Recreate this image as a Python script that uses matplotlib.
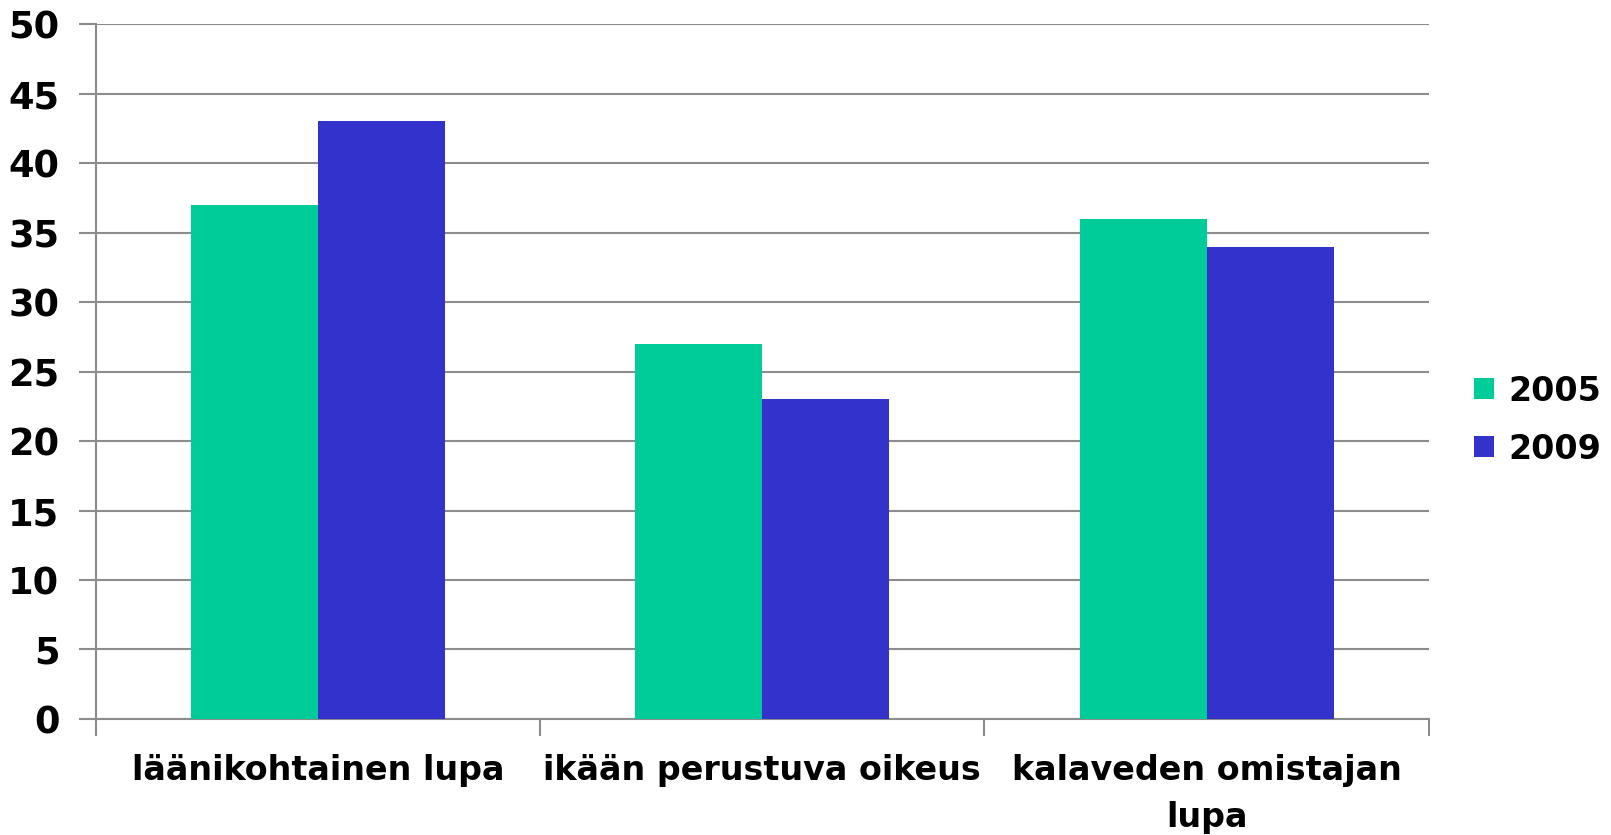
import matplotlib.pyplot as plt
import numpy as np

categories = ['läänikohtainen lupa', 'ikään perustuva oikeus', 'kalaveden omistajan\nlupa']
years = ['2005', '2009']
values_2005 = [37, 27, 36]
values_2009 = [43, 23, 34]
colors = ['#00CC99', '#3333CC']

plt.rcParams['font.family'] = 'DejaVu Sans'
plt.rcParams['font.weight'] = 'bold'

fig = plt.figure(figsize=(16.11, 8.35), dpi=100)
ax = fig.add_axes([0.0593, 0.139, 0.8277, 0.832])

x = np.arange(len(categories))
w = 0.286
ax.bar(x - w / 2, values_2005, w, color=colors[0], label=years[0], zorder=3)
ax.bar(x + w / 2, values_2009, w, color=colors[1], label=years[1], zorder=3)

ax.set_xlim(-0.5, len(categories) - 0.5)
ax.set_ylim(0, 50)
ax.set_yticks(range(0, 51, 5))
ax.yaxis.grid(True, color='#8c8c8c', linewidth=1.5, zorder=0)

ax.set_xticks(np.arange(-0.5, len(categories), 1.0))
ax.set_xticklabels([])
ax.set_xticks(x, minor=True)
ax.set_xticklabels(categories, minor=True, fontsize=24, fontweight='bold', linespacing=1.55)
ax.tick_params(axis='x', which='major', length=12, color='#8c8c8c', width=1.5)
ax.tick_params(axis='x', which='minor', length=0, pad=25)
ax.tick_params(axis='y', length=12, color='#8c8c8c', width=1.5, labelsize=26.5, pad=14)
for t in ax.get_yticklabels():
    t.set_fontweight('bold')

for s in ['top', 'right']:
    ax.spines[s].set_visible(False)
for s in ['left', 'bottom']:
    ax.spines[s].set_color('#8c8c8c')
    ax.spines[s].set_linewidth(1.5)

ax.legend(loc='center left', bbox_to_anchor=(0.8965, 0.497), bbox_transform=fig.transFigure,
          frameon=False, prop={'size': 24, 'weight': 'bold'},
          handlelength=0.6, handleheight=0.6, handletextpad=0.42, labelspacing=0.75)

fig.savefig('out.png', dpi=100)
